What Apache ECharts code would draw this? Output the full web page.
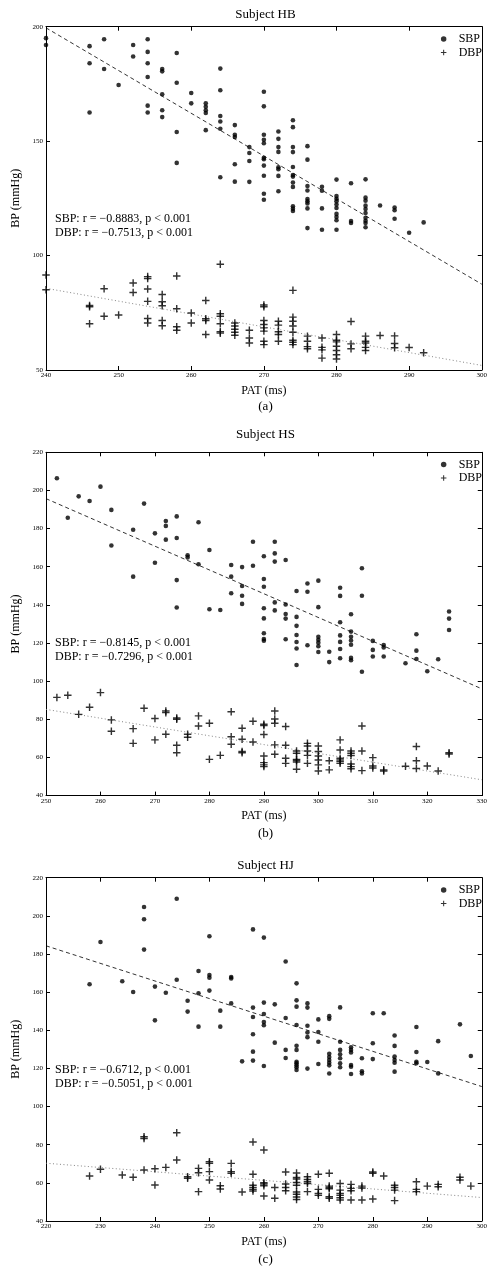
<!DOCTYPE html>
<html>
<head>
<meta charset="utf-8">
<script src="https://cdn.jsdelivr.net/npm/echarts@6/dist/echarts.min.js"></script>
<style>
html,body{margin:0;padding:0;background:#fff;}
#chart{width:490px;height:1268px;}
</style>
</head>
<body>
<div id="chart"></div>
<script>
// ---------------- DATA ----------------
const panelTitles = ['Subject HB', 'Subject HS', 'Subject HJ'];
const panelCaptions = ['(a)', '(b)', '(c)'];
const sbpStats = ['SBP: r = \u22120.8883, p < 0.001', 'SBP: r = \u22120.8145, p < 0.001', 'SBP: r = \u22120.6712, p < 0.001'];
const dbpStats = ['DBP: r = \u22120.7513, p < 0.001', 'DBP: r = \u22120.7296, p < 0.001', 'DBP: r = \u22120.5051, p < 0.001'];
const xRanges = [[240, 300], [250, 330], [220, 300]];
const yRanges = [[50, 200, 50], [40, 220, 20], [40, 220, 20]];

// Subject HB  [PAT ms, BP mmHg]
const hbSbp = [
[240,195],[240,192],
[246,191.5],[246,184],[246,162.5],
[248,194.5],[248,181.5],
[250,174.5],
[252,192],[252,187],
[254,194.5],[254,189],[254,184],[254,178],[254,165.5],[254,162.5],
[256,181.5],[256,180.5],[256,170.5],[256,163.5],[256,160.5],
[258,188.5],[258,175.5],[258,154],[258,140.5],
[260,171],[260,166.5],
[262,166.5],[262,165],[262,163.5],[262,162.3],[262,154.8],
[264,181.7],[264,172.2],[264,161],[264,158.6],[264,155.4],[264,134.2],
[266,157],[266,152.8],[266,151.8],[266,139.9],[266,132.3],
[268,147.4],[268,144.8],[268,141.3],[268,132.2],
[270,171.6],[270,165.2],[270,152.8],[270,150.6],[270,149.1],[270,142.7],[270,142.1],[270,139.3],[270,134.9],[270,127],[270,124.4],
[272,154.2],[272,151],[272,147.4],[272,145.3],[272,138.6],[272,137.7],[272,134.8],[272,128.1],
[274,159.1],[274,156.1],[274,147.4],[274,145.2],[274,138.7],[274,135.2],[274,134.5],[274,131.9],[274,130],[274,121.5],[274,120.5],[274,119.5],
[276,147.8],[276,141.9],[276,130.4],[276,128.4],[276,124.7],[276,123.7],[276,122.8],[276,120.6],[276,112],
[278,130.1],[278,128.3],[278,120.6],[278,111.3],
[280,133.2],[280,126],[280,124.8],[280,123.7],[280,122.3],[280,120.8],[280,118.2],[280,116.8],[280,115.4],[280,111.3],
[282,131.6],[282,115.1],[282,114.2],
[284,133.3],[284,125.3],[284,124],[284,121.8],[284,120.3],[284,118.6],[284,116.5],[284,115.2],[284,114.2],[284,112.4],
[286,121.9],
[288,121],[288,119.8],[288,116.1],
[290,110],
[292,114.5]
];
const hbDbp = [
[240,91.5],[240,85.1],
[246,78.2],[246,77.6],[246,70.2],
[248,85.5],[248,73.5],
[250,74],
[252,88],[252,83.9],
[254,90.8],[254,90],[254,85.4],[254,80],[254,72.5],[254,70.5],
[256,83],[256,79.8],[256,78.1],[256,71.6],[256,69.3],
[258,91.1],[258,76.8],[258,68.9],[258,67.4],
[260,74.9],[260,70.5],
[262,80.4],[262,72.4],[262,71.6],[262,65.5],
[264,96.2],[264,74.6],[264,73.5],[264,70.2],[264,66.7],[264,66.1],
[266,70.5],[266,69.2],[266,67.8],[266,66.5],[266,65.2],
[268,67.4],[268,64],[268,61.8],
[270,78.4],[270,77.6],[270,71.6],[270,69.9],[270,68.4],[270,67],[270,62.6],[270,61.1],
[272,71.3],[272,69.6],[272,66.7],[272,65.5],[272,62.6],
[274,84.8],[274,73.1],[274,71.3],[274,69.2],[274,66.5],[274,63],[274,62.1],[274,61.1],
[276,64.8],[276,62.6],[276,60.2],[276,59.3],
[278,64],[278,59.9],[278,58.8],[278,55.2],
[280,65.5],[280,63],[280,62.3],[280,60.4],[280,58.5],[280,56.7],[280,54.8],
[282,71.2],[282,61.4],[282,59.3],
[284,64.8],[284,62.6],[284,61.8],[284,59.9],[284,58.5],
[286,65.1],
[288,64.9],[288,61.6],[288,59.7],
[290,59.8],
[292,57.5]
];
const hbSbpFit = [[240,199.5],[300,87.5]];
const hbDbpFit = [[240,85.7],[300,52]];

// Subject HS
const hsSbp = [
[252,206.4],[254,185.7],[256,196.9],[258,194.5],[260,202],
[262,189.8],[262,171.1],
[266,179.4],[266,154.8],
[268,193.1],
[270,177.5],[270,162.1],
[272,184],[272,181.4],[272,174.2],
[274,186.4],[274,175.1],[274,153],[274,138.6],
[276,166],[276,164.9],
[278,183.3],[278,161.3],
[280,168.8],[280,137.7],
[282,137.3],
[284,160.9],[284,154.8],[284,146.1],
[286,159.8],[286,149.9],[286,144.8],[286,140.5],
[288,173.1],[288,160.5],
[290,165.5],[290,153.6],[290,149.5],[290,138.2],[290,132.9],[290,125.1],[290,122.1],[290,121.2],
[292,173.1],[292,167],[292,162.7],[292,141.3],[292,137.1],
[294,163.5],[294,140.2],[294,135.2],[294,132.8],[294,122],
[296,147.3],[296,133.7],[296,129],[296,124.2],[296,120.5],[296,117.1],[296,108.5],
[298,151.2],[298,146.9],[298,118.8],
[300,152.7],[300,138.8],[300,123.3],[300,121.7],[300,120.2],[300,118.3],[300,115.3],
[302,115.4],[302,110],
[304,149],[304,144.7],[304,130.9],[304,124],[304,120.6],[304,116.9],[304,112],
[306,135.1],[306,126],[306,123.3],[306,121.3],[306,119.1],[306,112.2],[306,111],
[308,159.2],[308,144.8],[308,104.9],
[310,121.1],[310,116.4],[310,112.9],
[312,118.9],[312,117.7],[312,112.9],
[316,109.4],
[318,124.6],[318,116],[318,111.6],
[320,105.2],
[322,111.5],
[324,136.5],[324,132.8],[324,126.8]
];
const hsDbp = [
[252,91.5],[254,92.6],[256,82.6],[258,86.3],[260,94],
[262,79.7],[262,73.7],
[266,75.1],[266,67.4],
[268,85.8],
[270,80.4],[270,69.2],
[272,84.4],[272,83.5],[272,72.2],
[274,80.7],[274,80],[274,66.4],[274,62.5],
[276,72.2],[276,70.6],
[278,81.8],[278,76.5],
[280,77.9],[280,59],
[282,61.1],
[284,84],[284,70.9],[284,66.9],
[286,75.3],[286,69.5],[286,63.1],[286,62.5],
[288,79],[288,68.1],
[290,77.4],[290,76.7],[290,72],[290,60.8],[290,57.3],[290,56.1],[290,55.2],
[292,84.4],[292,80.2],[292,77.9],[292,66.6],[292,61.7],
[294,76.2],[294,66.4],[294,59.6],[294,56.9],
[296,63.4],[296,62.2],[296,59],[296,58.4],[296,57.6],[296,53.8],
[298,67.4],[298,66],[298,63.4],[298,61.1],[298,56.9],
[300,66],[300,63.1],[300,60.8],[300,58.7],[300,56.1],[300,52.9],
[302,58.3],[302,53.5],
[304,69.2],[304,63.9],[304,59.6],[304,58.7],[304,57.8],[304,56.9],
[306,63.4],[306,62.2],[306,61],[306,56.6],[306,55.2],[306,54.1],
[308,76.5],[308,63.4],[308,53.1],
[310,59.9],[310,55.5],[310,54.5],
[312,53.5],[312,52.9],
[316,55.4],
[318,65.7],[318,58.3],[318,54.2],
[320,55.5],
[322,52.9],
[324,62.5],[324,61.8]
];
const hsSbpFit = [[250,195.7],[330,96]];
const hsDbpFit = [[250,85.2],[330,48.3]];

// Subject HJ
const hjSbp = [
[228,164.1],[230,186.3],[234,165.7],[236,160.1],
[238,204.6],[238,198.2],[238,182.3],
[240,162.9],[240,145.2],
[242,159.7],
[244,209],[244,166.5],
[246,155.5],[246,149.8],
[248,171.1],[248,159.4],[248,141.9],
[250,189.3],[250,169],[250,167.6],[250,160.8],
[252,150.3],[252,141.9],
[254,167.9],[254,167.2],[254,154.1],
[256,123.7],
[258,192.9],[258,151.9],[258,147],[258,137.9],[258,128.8],[258,124.1],
[260,188.6],[260,154.5],[260,148.5],[260,144.3],[260,142.6],[260,121.3],
[262,153.6],[262,133.5],
[264,176.1],[264,146.4],[264,129.7],[264,125.5],
[266,164.6],[266,155.7],[266,152.4],[266,142.8],[266,131.9],[266,129.7],[266,123.5],[266,122.7],[266,121.6],[266,120.6],[266,119.2],
[268,154.1],[268,151.9],[268,142.4],[268,138.8],[268,136.4],[268,119.9],
[270,145.7],[270,139.1],[270,134],[270,122.3],
[272,147.4],[272,146],[272,127.7],[272,126],[272,124.4],[272,123],[272,121.6],[272,117.3],
[274,152],[274,134],[274,129.7],[274,127.4],[274,125.3],[274,122.7],[274,120.6],
[276,131.1],[276,129.7],[276,128.4],[276,121.8],[276,120.9],[276,117.1],
[278,125.3],[278,118.5],[278,117.4],
[280,148.9],[280,133.2],[280,124.9],
[282,148.9],
[284,137.3],[284,131.8],[284,126.2],[284,124.4],[284,123],[284,118.3],
[288,141.7],[288,128.6],[288,123.5],[288,122.7],
[290,123.4],
[292,134.3],[292,117.4],
[296,143.1],
[298,126.5]
];
const hjDbp = [
[228,63.6],[230,67.1],[234,64.1],[236,62.9],
[238,84.2],[238,83.3],[238,66.7],
[240,67.4],[240,58.9],
[242,68.1],
[244,86.3],[244,72],
[246,63.2],[246,62.4],
[248,67.6],[248,65.3],[248,55.4],
[250,71.1],[250,70.2],[250,65.9],[250,61.5],
[252,58.5],[252,56.8],
[254,70.2],[254,65.9],[254,65],
[256,55.2],
[258,81.4],[258,64.5],[258,58.7],[258,57.6],[258,56.6],[258,55.7],
[260,77.2],[260,60.1],[260,59.4],[260,58.5],[260,53.1],
[262,57.6],[262,51.9],
[264,65.7],[264,59.4],[264,57.6],[264,55.9],
[266,65.2],[266,62.8],[266,62],[266,60.2],[266,58.7],[266,55.2],[266,54],[266,52.6],[266,51.3],
[268,63.2],[268,61.8],[268,60.6],[268,59.7],[268,55.4],
[270,64.5],[270,56.6],[270,54.5],[270,53.5],
[272,65],[272,58.3],[272,57.6],[272,56.9],[272,52.7],[272,51.9],
[274,59.7],[274,56.2],[274,54.5],[274,53.5],[274,52.2],[274,51],
[276,59.2],[276,57.1],[276,55.9],[276,51],
[278,58.3],[278,57.3],[278,51],
[280,65.7],[280,65],[280,51.5],
[282,63.6],
[284,58.7],[284,57.6],[284,56.2],[284,50.7],
[288,60.6],[288,56.6],[288,55.4],
[290,58.3],
[292,59.2],[292,58],
[296,62.9],[296,61.5],
[298,58.3]
];
const hjSbpFit = [[220,184.3],[300,110.5]];
const hjDbpFit = [[220,70.3],[300,52.3]];

const sbpSets = [hbSbp, hsSbp, hjSbp];
const dbpSets = [hbDbp, hsDbp, hjDbp];
const sbpFits = [hbSbpFit, hsSbpFit, hjSbpFit];
const dbpFits = [hbDbpFit, hsDbpFit, hjDbpFit];

// ---------------- LAYOUT / STYLE ----------------
const FONT = '"Liberation Serif", "Times New Roman", serif';
const PLUS = 'path://M4.05,0H5.95V4.05H10V5.95H5.95V10H4.05V5.95H0V4.05H4.05Z';
const gridTops = [26.7, 452.3, 877.7];
const gridH = 343.3;
const gridL = 46, gridW = 439;
const titleY = [15, 435, 866];
const captionY = [407, 834, 1260];
const statY = [[219.3, 233.3], [642.7, 656.7], [1070, 1083.6]];

const grid = [], xAxis = [], yAxis = [], series = [], legend = [], graphic = [];
for (let i = 0; i < 3; i++) {
  grid.push({left: gridL, top: gridTops[i], width: gridW, height: gridH, containLabel: false});
  const axLine = {show: true, onZero: false, lineStyle: {color: '#000', width: 1}};
  const tick = {show: true, inside: true, length: 4, lineStyle: {color: '#000', width: 1}};
  xAxis.push({
    type: 'value', gridIndex: i, position: 'bottom',
    min: xRanges[i][0], max: xRanges[i][1], interval: 10,
    axisLine: axLine, axisTick: tick, splitLine: {show: false},
    axisLabel: {fontSize: 7, fontFamily: FONT, color: '#000', margin: 2},
    name: 'PAT (ms)', nameLocation: 'middle', nameGap: 14.5,
    nameTextStyle: {fontSize: 12, fontFamily: FONT, color: '#000'}
  });
  xAxis.push({
    type: 'value', gridIndex: i, position: 'top',
    min: xRanges[i][0], max: xRanges[i][1], interval: 10,
    axisLine: axLine, axisTick: tick, splitLine: {show: false},
    axisLabel: {show: false}
  });
  yAxis.push({
    type: 'value', gridIndex: i, position: 'left',
    min: yRanges[i][0], max: yRanges[i][1], interval: yRanges[i][2],
    axisLine: axLine, axisTick: tick, splitLine: {show: false},
    axisLabel: {fontSize: 7, fontFamily: FONT, color: '#000', margin: 3},
    name: 'BP (mmHg)', nameLocation: 'middle', nameGap: 19,
    nameTextStyle: {fontSize: 12, fontFamily: FONT, color: '#000'}
  });
  yAxis.push({
    type: 'value', gridIndex: i, position: 'right',
    min: yRanges[i][0], max: yRanges[i][1], interval: yRanges[i][2],
    axisLine: axLine, axisTick: tick, splitLine: {show: false},
    axisLabel: {show: false}
  });
  series.push({
    type: 'line', name: 'SBP fit', xAxisIndex: 2 * i, yAxisIndex: 2 * i,
    data: sbpFits[i], showSymbol: false, symbol: 'none', silent: true,
    lineStyle: {color: '#000', width: 0.8, type: [4, 3]}, z: 1
  });
  series.push({
    type: 'line', name: 'DBP fit', xAxisIndex: 2 * i, yAxisIndex: 2 * i,
    data: dbpFits[i], showSymbol: false, symbol: 'none', silent: true,
    lineStyle: {color: '#777', width: 0.9, type: [1, 2.5]}, z: 1
  });
  series.push({
    type: 'scatter', name: 'SBP', xAxisIndex: 2 * i, yAxisIndex: 2 * i,
    data: sbpSets[i], symbol: 'circle', symbolSize: 4.6,
    itemStyle: {color: '#000'}, z: 3
  });
  series.push({
    type: 'scatter', name: 'DBP', xAxisIndex: 2 * i, yAxisIndex: 2 * i,
    data: dbpSets[i], symbol: PLUS, symbolSize: 7.5,
    itemStyle: {color: '#000'}, z: 3
  });
  legend.push({
    orient: 'vertical', right: 8, top: gridTops[i] + 6.3, padding: 0,
    itemWidth: 20, itemHeight: 5.5, itemGap: 1.5,
    selectedMode: false,
    textStyle: {fontSize: 12, fontFamily: FONT, color: '#000'},
    data: [{name: 'SBP', icon: 'circle'}, {name: 'DBP', icon: PLUS}]
  });
  graphic.push({type: 'text', x: gridL + gridW / 2, y: titleY[i],
    style: {text: panelTitles[i], font: '13px ' + FONT, fill: '#000', align: 'center', verticalAlign: 'middle'}});
  graphic.push({type: 'text', x: gridL + gridW / 2, y: captionY[i],
    style: {text: panelCaptions[i], font: '13px ' + FONT, fill: '#000', align: 'center', verticalAlign: 'middle'}});
  graphic.push({type: 'text', x: 55, y: statY[i][0],
    style: {text: sbpStats[i], font: '12px ' + FONT, fill: '#000', align: 'left', verticalAlign: 'middle'}});
  graphic.push({type: 'text', x: 55, y: statY[i][1],
    style: {text: dbpStats[i], font: '12px ' + FONT, fill: '#000', align: 'left', verticalAlign: 'middle'}});
}

const chart = echarts.init(document.getElementById('chart'), null, {renderer: 'canvas'});
chart.setOption({
  animation: false,
  backgroundColor: '#fff',
  textStyle: {fontFamily: FONT},
  grid, xAxis, yAxis, series, legend, graphic
});
</script>
</body>
</html>
